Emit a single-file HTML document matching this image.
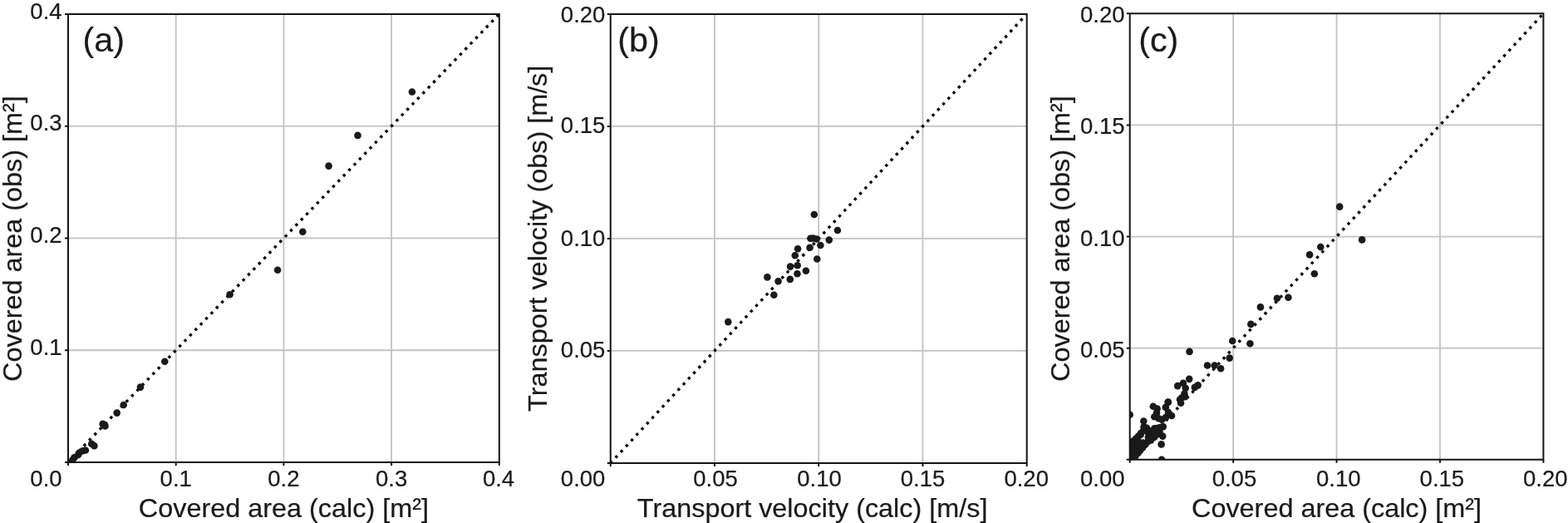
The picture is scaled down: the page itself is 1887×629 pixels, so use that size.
<!DOCTYPE html>
<html lang="en"><head><meta charset="utf-8"><title>Observed vs calculated scatter plots</title>
<style>
html,body{margin:0;padding:0;background:#fff;}
body{width:1887px;height:629px;overflow:hidden;}
svg{display:block;}
text{font-family:"Liberation Sans",Arial,Helvetica,sans-serif;fill:#1a1a1a;stroke:#1a1a1a;stroke-width:0.22px;}
.tk{font-size:27.5px;}
.lb{font-size:32px;}
.pn{font-size:40.5px;}
.g{stroke:#c2c2c2;stroke-width:1.8;fill:none;}
.ax{stroke:#151515;stroke-width:2;fill:none;}
.d{stroke:#0a0a0a;stroke-width:3.4;stroke-dasharray:3.4 5.79;stroke-dashoffset:0.5;fill:none;}
.p circle{fill:#1a1a1a;}
</style></head><body>
<svg width="1887" height="629" viewBox="0 0 1887 629">
<rect width="1887" height="629" fill="#fff"/>
<g id="plot-a">
<clipPath id="cp-a"><rect x="82" y="16.9" width="518.8" height="539.1"/></clipPath>
<path class="g" d="M211.7 556V16.9M82 421.23H600.8M341.4 556V16.9M82 286.45H600.8M471.1 556V16.9M82 151.67H600.8"/>
<path class="d" d="M82 556L600.8 16.9"/>
<g class="p" clip-path="url(#cp-a)">
<circle cx="495.9" cy="110.5" r="4.3"/><circle cx="430.5" cy="162.9" r="4.3"/><circle cx="395.6" cy="199.6" r="4.3"/><circle cx="364.3" cy="278.7" r="4.3"/><circle cx="334.1" cy="324.7" r="4.3"/><circle cx="276.6" cy="354.2" r="4.3"/><circle cx="198.3" cy="434.8" r="4.3"/><circle cx="169" cy="465.6" r="4.3"/><circle cx="148.7" cy="487" r="4.3"/><circle cx="140.7" cy="496.6" r="4.3"/><circle cx="123.7" cy="509.9" r="4.3"/><circle cx="126.5" cy="512.4" r="4.3"/><circle cx="110.2" cy="533.8" r="4.3"/><circle cx="113.4" cy="536.3" r="4.3"/><circle cx="102.9" cy="541.5" r="4.3"/><circle cx="99.6" cy="542.2" r="4.3"/><circle cx="95.1" cy="544.7" r="4.3"/><circle cx="94.1" cy="547" r="4.3"/><circle cx="89.5" cy="550.3" r="4.3"/><circle cx="87.4" cy="553.1" r="4.3"/>
</g>
<path class="ax" d="M82 16.9H600.8V556H82ZM82 556v4M82 556h-4M211.7 556v4M82 421.23h-4M341.4 556v4M82 286.45h-4M471.1 556v4M82 151.67h-4M600.8 556v4M82 16.9h-4"/>
<text class="tk" text-anchor="end" transform="translate(74.6 585)">0.0</text>
<text class="tk" text-anchor="middle" transform="translate(211.7 585)">0.1</text>
<text class="tk" text-anchor="end" transform="translate(74.6 427.33)">0.1</text>
<text class="tk" text-anchor="middle" transform="translate(341.4 585)">0.2</text>
<text class="tk" text-anchor="end" transform="translate(74.6 291.95)">0.2</text>
<text class="tk" text-anchor="middle" transform="translate(471.1 585)">0.3</text>
<text class="tk" text-anchor="end" transform="translate(74.6 156.87)">0.3</text>
<text class="tk" text-anchor="middle" transform="translate(600 585)">0.4</text>
<text class="tk" text-anchor="end" transform="translate(74.6 23.1)">0.4</text>
<text class="lb" text-anchor="middle" transform="translate(341.4 621.5) scale(1.012 1)">Covered area (calc) [m²]</text>
<text class="lb" text-anchor="middle" transform="translate(25.5 287.1) rotate(-90) scale(1.012 1)">Covered area (obs) [m²]</text>
<text class="pn" text-anchor="start" transform="translate(99.5 61.9) scale(1.02 1)">(a)</text>
</g>
<g id="plot-b">
<clipPath id="cp-b"><rect x="734.75" y="16.9" width="500.95" height="540"/></clipPath>
<path class="g" d="M859.99 556.9V16.9M734.75 421.9H1235.7M985.23 556.9V16.9M734.75 286.9H1235.7M1110.46 556.9V16.9M734.75 151.9H1235.7"/>
<path class="d" d="M734.75 556.9L1235.7 16.9"/>
<g class="p" clip-path="url(#cp-b)">
<circle cx="979.8" cy="258" r="4.3"/><circle cx="1007.9" cy="277" r="4.3"/><circle cx="997.8" cy="288.6" r="4.3"/><circle cx="975.4" cy="286.7" r="4.3"/><circle cx="978.5" cy="286.5" r="4.3"/><circle cx="982.7" cy="287.5" r="4.3"/><circle cx="987.4" cy="295" r="4.3"/><circle cx="974.6" cy="297.7" r="4.3"/><circle cx="960.1" cy="299.3" r="4.3"/><circle cx="956.8" cy="307.2" r="4.3"/><circle cx="983.3" cy="311.5" r="4.3"/><circle cx="959.7" cy="319.2" r="4.3"/><circle cx="951.1" cy="320.6" r="4.3"/><circle cx="969.9" cy="325.8" r="4.3"/><circle cx="959.5" cy="329.3" r="4.3"/><circle cx="923.4" cy="333.4" r="4.3"/><circle cx="950.8" cy="335.9" r="4.3"/><circle cx="936.6" cy="338.2" r="4.3"/><circle cx="931.4" cy="354.7" r="4.3"/><circle cx="876.3" cy="387.1" r="4.3"/>
</g>
<path class="ax" d="M734.75 16.9H1235.7V556.9H734.75ZM734.75 556.9v4M734.75 556.9h-4M859.99 556.9v4M734.75 421.9h-4M985.23 556.9v4M734.75 286.9h-4M1110.46 556.9v4M734.75 151.9h-4M1235.7 556.9v4M734.75 16.9h-4"/>
<text class="tk" text-anchor="end" transform="translate(728.4 585)">0.00</text>
<text class="tk" text-anchor="middle" transform="translate(860.99 585)">0.05</text>
<text class="tk" text-anchor="end" transform="translate(728.4 430.4)">0.05</text>
<text class="tk" text-anchor="middle" transform="translate(986.02 585)">0.10</text>
<text class="tk" text-anchor="end" transform="translate(728.4 295.5)">0.10</text>
<text class="tk" text-anchor="middle" transform="translate(1110.46 585)">0.15</text>
<text class="tk" text-anchor="end" transform="translate(728.4 160.2)">0.15</text>
<text class="tk" text-anchor="middle" transform="translate(1235.2 585)">0.20</text>
<text class="tk" text-anchor="end" transform="translate(728.4 26.9)">0.20</text>
<text class="lb" text-anchor="middle" transform="translate(977.62 621.5) scale(1.012 1)">Transport velocity (calc) [m/s]</text>
<text class="lb" text-anchor="middle" transform="translate(657.9 286.8) rotate(-90) scale(1.012 1)">Transport velocity (obs) [m/s]</text>
<text class="pn" text-anchor="start" transform="translate(743.2 61.9) scale(1.02 1)">(b)</text>
</g>
<g id="plot-c">
<clipPath id="cp-c"><rect x="1359.7" y="16.3" width="497.7" height="536.5"/></clipPath>
<path class="g" d="M1484.12 552.8V16.3M1359.7 418.67H1857.4M1608.55 552.8V16.3M1359.7 284.55H1857.4M1732.98 552.8V16.3M1359.7 150.42H1857.4"/>
<path class="d" d="M1359.7 552.8L1857.4 16.3"/>
<g class="p" clip-path="url(#cp-c)">
<circle cx="1612.2" cy="248.6" r="4.3"/><circle cx="1639.1" cy="288.4" r="4.3"/><circle cx="1589.3" cy="297" r="4.3"/><circle cx="1576.1" cy="306.4" r="4.3"/><circle cx="1581.8" cy="329.3" r="4.3"/><circle cx="1550.4" cy="357.7" r="4.3"/><circle cx="1536.9" cy="358.8" r="4.3"/><circle cx="1516.9" cy="369.4" r="4.3"/><circle cx="1505.3" cy="389.9" r="4.3"/><circle cx="1504.4" cy="413.2" r="4.3"/><circle cx="1483.2" cy="410" r="4.3"/><circle cx="1479.7" cy="430.6" r="4.3"/><circle cx="1431.5" cy="422.9" r="4.3"/><circle cx="1453" cy="439.5" r="4.3"/><circle cx="1461.6" cy="439.5" r="4.3"/><circle cx="1469.1" cy="443.3" r="4.3"/><circle cx="1431.2" cy="455.85" r="4.3"/><circle cx="1423.85" cy="460.8" r="4.3"/><circle cx="1417.2" cy="464.1" r="4.3"/><circle cx="1426.7" cy="466.85" r="4.3"/><circle cx="1425.4" cy="473.5" r="4.3"/><circle cx="1426" cy="477.3" r="4.3"/><circle cx="1422.3" cy="478.3" r="4.3"/><circle cx="1420" cy="480.5" r="4.3"/><circle cx="1421" cy="484.7" r="4.3"/><circle cx="1441.65" cy="463.35" r="4.3"/><circle cx="1437.8" cy="465.9" r="4.3"/><circle cx="1405.7" cy="483.7" r="4.3"/><circle cx="1359.7" cy="498.8" r="4.3"/><circle cx="1398" cy="552.8" r="4.3"/><circle cx="1397.6" cy="534.4" r="4.3"/><circle cx="1399.2" cy="524.6" r="4.3"/><circle cx="1376.3" cy="506.45" r="4.3"/><circle cx="1387.8" cy="488.7" r="4.3"/><circle cx="1405.8" cy="483.6" r="4.3"/><circle cx="1392.6" cy="491.5" r="4.3"/><circle cx="1402.8" cy="489.9" r="4.3"/><circle cx="1389.3" cy="501.3" r="4.3"/><circle cx="1410" cy="500" r="4.3"/><circle cx="1406" cy="496" r="4.3"/><circle cx="1398.3" cy="504.8" r="4.3"/><circle cx="1402.8" cy="502" r="4.3"/><circle cx="1392" cy="496.6" r="4.3"/><circle cx="1394.4" cy="503.3" r="4.3"/><circle cx="1399.8" cy="513.1" r="4.3"/><circle cx="1376.6" cy="513.4" r="4.3"/><circle cx="1380.1" cy="514.7" r="4.3"/><circle cx="1389.3" cy="515.3" r="4.3"/><circle cx="1393.2" cy="514.7" r="4.3"/><circle cx="1396.5" cy="514" r="4.3"/><circle cx="1366.5" cy="548.5" r="4.3"/><circle cx="1369.5" cy="545" r="4.3"/><circle cx="1372" cy="542" r="4.3"/><circle cx="1375" cy="538.5" r="4.3"/><circle cx="1378" cy="535" r="4.3"/><circle cx="1381" cy="531.5" r="4.3"/><circle cx="1385" cy="529.5" r="4.3"/><circle cx="1389" cy="526" r="4.3"/><circle cx="1392.5" cy="522.5" r="4.3"/><circle cx="1395.5" cy="519" r="4.3"/><circle cx="1361" cy="533" r="4.3"/><circle cx="1363.5" cy="530.5" r="4.3"/><circle cx="1367" cy="527.5" r="4.3"/><circle cx="1370" cy="524.5" r="4.3"/><circle cx="1373" cy="521" r="4.3"/><circle cx="1376" cy="518" r="4.3"/><circle cx="1362" cy="540" r="4.3"/><circle cx="1362" cy="546" r="4.3"/><circle cx="1365" cy="537" r="4.3"/><circle cx="1368" cy="534" r="4.3"/><circle cx="1370.5" cy="531.5" r="4.3"/><circle cx="1364" cy="543" r="4.3"/><circle cx="1367" cy="540" r="4.3"/><circle cx="1370" cy="537" r="4.3"/><circle cx="1373" cy="534" r="4.3"/><circle cx="1360.5" cy="532" r="4.3"/><circle cx="1360" cy="538" r="4.3"/><circle cx="1360" cy="545" r="4.3"/><circle cx="1361" cy="550" r="4.3"/><circle cx="1382" cy="521" r="4.3"/><circle cx="1385.5" cy="518.5" r="4.3"/><circle cx="1381.9" cy="526" r="4.3"/><circle cx="1375.3" cy="532.6" r="4.3"/><circle cx="1372.7" cy="522.8" r="4.3"/><circle cx="1387.5" cy="520.6" r="4.3"/><circle cx="1384.5" cy="523.5" r="4.3"/><circle cx="1382.6" cy="528.6" r="4.3"/>
</g>
<path class="ax" d="M1359.7 16.3H1857.4V552.8H1359.7ZM1359.7 552.8v4M1359.7 552.8h-4M1484.12 552.8v4M1359.7 418.67h-4M1608.55 552.8v4M1359.7 284.55h-4M1732.98 552.8v4M1359.7 150.42h-4M1857.4 552.8v4M1359.7 16.3h-4"/>
<text class="tk" text-anchor="end" transform="translate(1353.6 585)">0.00</text>
<text class="tk" text-anchor="middle" transform="translate(1485.42 585)">0.05</text>
<text class="tk" text-anchor="end" transform="translate(1353.6 430.37)">0.05</text>
<text class="tk" text-anchor="middle" transform="translate(1610.75 585)">0.10</text>
<text class="tk" text-anchor="end" transform="translate(1353.6 295.95)">0.10</text>
<text class="tk" text-anchor="middle" transform="translate(1735.38 585)">0.15</text>
<text class="tk" text-anchor="end" transform="translate(1353.6 160.72)">0.15</text>
<text class="tk" text-anchor="middle" transform="translate(1859.8 585)">0.20</text>
<text class="tk" text-anchor="end" transform="translate(1353.6 26.8)">0.20</text>
<text class="lb" text-anchor="middle" transform="translate(1608.55 621.5) scale(1.012 1)">Covered area (calc) [m²]</text>
<text class="lb" text-anchor="middle" transform="translate(1287.1 287.1) rotate(-90) scale(1.012 1)">Covered area (obs) [m²]</text>
<text class="pn" text-anchor="start" transform="translate(1370.2 61.9) scale(1.02 1)">(c)</text>
</g>
</svg></body></html>
